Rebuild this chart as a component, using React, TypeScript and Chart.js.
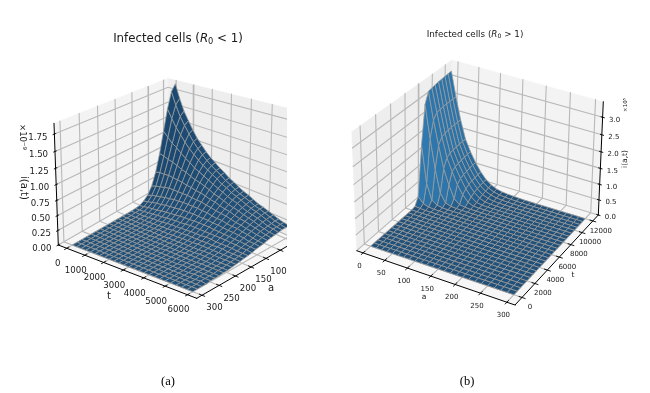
import React, { useEffect, useRef } from "react";
import { Chart, registerables } from "chart.js";

Chart.register(...registerables);

const leftAGrid = [-12,1,14,27,40,53,66,79,92,105,118,131,144,157,170,183,196,209,222,235,248,261,274,287,300];
const leftTGrid = [0,250,500,750,1000,1250,1500,1750,2000,2250,2500,2750,3000,3250,3500,3750,4000,4250,4500,4750,5000,5250,5500,5750,6000];
// one row per t in leftTGrid; columns follow leftAGrid; omitted trailing cells are 0
const leftRows = [
[1.85,1.75,1.49,1.14,.78,.48,.26,.13,.06,.02,.01],
[1.63,1.55,1.35,1.06,.76,.50,.29,.16,.08,.03,.01,.01],
[1.44,1.38,1.22,.98,.73,.50,.31,.18,.10,.05,.02,.01],
[1.30,1.25,1.12,.93,.71,.51,.33,.20,.12,.06,.03,.01,.01],
[1.17,1.13,1.02,.86,.68,.50,.35,.22,.13,.07,.04,.02,.01],
[1.05,1.02,.93,.80,.64,.49,.35,.23,.15,.09,.05,.03,.01,.01],
[.96,.93,.86,.75,.62,.48,.35,.25,.16,.10,.06,.03,.02,.01],
[.87,.85,.79,.69,.58,.46,.35,.25,.17,.11,.07,.04,.02,.01,.01],
[.80,.78,.73,.65,.55,.45,.35,.26,.18,.12,.08,.05,.03,.02,.01],
[.74,.72,.68,.61,.53,.43,.34,.26,.19,.13,.09,.06,.03,.02,.01,.01],
[.68,.67,.63,.57,.50,.42,.33,.26,.19,.14,.09,.06,.04,.02,.01,.01],
[.63,.62,.59,.53,.47,.40,.33,.26,.20,.14,.10,.07,.05,.03,.02,.01,.01],
[.57,.56,.53,.49,.43,.37,.31,.25,.19,.15,.11,.07,.05,.03,.02,.01,.01],
[.53,.52,.50,.46,.41,.36,.30,.25,.19,.15,.11,.08,.06,.04,.02,.02,.01,.01],
[.48,.47,.45,.42,.38,.33,.28,.23,.19,.15,.11,.08,.06,.04,.03,.02,.01,.01],
[.44,.43,.42,.39,.35,.31,.27,.22,.18,.15,.11,.08,.06,.04,.03,.02,.01,.01],
[.41,.40,.39,.37,.33,.30,.26,.22,.18,.14,.11,.09,.06,.05,.03,.02,.02,.01,.01],
[.37,.37,.35,.33,.31,.27,.24,.20,.17,.14,.11,.09,.07,.05,.03,.02,.02,.01,.01],
[.33,.33,.32,.30,.28,.25,.22,.19,.16,.13,.11,.08,.06,.05,.04,.03,.02,.01,.01,.01],
[.31,.31,.30,.28,.26,.24,.21,.19,.16,.13,.11,.08,.07,.05,.04,.03,.02,.01,.01,.01],
[.28,.28,.27,.26,.24,.22,.19,.17,.15,.12,.10,.08,.07,.05,.04,.03,.02,.02,.01,.01],
[.25,.25,.24,.23,.21,.20,.18,.16,.14,.12,.10,.08,.06,.05,.04,.03,.02,.02,.01,.01,.01],
[.22,.22,.21,.20,.19,.18,.16,.14,.12,.11,.09,.07,.06,.05,.04,.03,.02,.02,.01,.01,.01],
[.20,.20,.19,.19,.17,.16,.15,.13,.12,.10,.09,.07,.06,.05,.04,.03,.02,.02,.01,.01,.01,.01],
[.185,.18,.18,.17,.16,.15,.14,.12,.11,.10,.08,.07,.06,.05,.04,.03,.02,.02,.01,.01,.01],
];
const leftATicks = [0,50,100,150,200,250,300];
const leftTTicks = [0,1000,2000,3000,4000,5000,6000];
const leftZTicks = [0,.25,.5,.75,1,1.25,1.5,1.75];

const rightAGrid = [0,12.5,25,37.5,50,62.5,75,87.5,100,112.5,125,137.5,150,162.5,175,187.5,200,212.5,225,237.5,250,262.5,275,287.5,300];
const rightTGrid = [0,500,1000,1500,2000,2500,3000,3500,4000,4500,5000,5500,6000,6500,7000,7500,8000,8500,9000,9500,10000,10500,11000,11500,12000];
// rows for t = 0 .. 6000 are flat zero; omitted trailing cells are 0
const rightRows = [
[],[],[],[],[],[],[],[],[],[],[],[],[],
[.03,.01],
[.26,.08,.02],
[1.8,.65,.16,.04,.01],
[2.9,1.95,1.07,.35,.08,.02,.005],
[3.2,2.42,1.72,1.05,.58,.19,.04,.01],
[3.22,2.56,1.89,1.3,.92,.56,.28,.08,.01],
[3.24,2.58,1.92,1.36,.98,.66,.38,.17,.04,.01],
[3.26,2.59,1.94,1.38,1.01,.7,.44,.23,.09,.02,.005],
[3.27,2.6,1.95,1.39,1.03,.72,.46,.26,.12,.05,.01,.003],
[3.28,2.6,1.95,1.4,1.04,.74,.48,.28,.14,.07,.03,.01,.002],
[3.29,2.6,1.95,1.4,1.05,.75,.49,.29,.16,.08,.04,.02,.01],
[3.3,2.6,1.95,1.4,1.05,.75,.5,.3,.17,.09,.05,.03,.02,.01],
];
const rightATicks = [0,50,100,150,200,250,300];
const rightTTicks = [0,2000,4000,6000,8000,10000,12000];
const rightZTicks = [0,.5,1,1.5,2,2.5,3];

type P = { x: number; y: number };
type Lbl = { text: string; at: P; size: number; rot?: number };

const GRID = "#b8b8b8";
const MESH = "#9c9c9c";

// corners indexed [u][v][s] on the page: u along a, v along t, s along z
const leftView = {
  box: [[[[168,182],[168,78.3]],[[298,240],[303,112]]],[[[58.3,245],[54,123.3]],[[196.7,298.3],[196,152]]]],
  depth: [-.12,-.12,-.1],
  aRange: [-15,315], tRange: [-480,6400], zRange: [0,1.9],
};
const rightView = {
  box: [[[[356.7,250.7],[351.7,131.7]],[[449,170],[452,60]]],[[[515,305],[516,165]],[[598.3,215],[603.3,101.7]]]],
  depth: [-.12,.12,-.1],
  aRange: [-15,315], tRange: [-1050,13050], zRange: [0,3.43],
};
type View = typeof leftView;

function dOf(v: View, u: number, w: number, s: number) {
  return 1 + v.depth[0]*u + v.depth[1]*w + v.depth[2]*s;
}
function proj(v: View, u: number, w: number, s: number): P {
  let sx = 0, sy = 0, sd = 0;
  for (const iu of [0,1]) for (const iw of [0,1]) for (const is of [0,1]) {
    const b = (iu?u:1-u)*(iw?w:1-w)*(is?s:1-s)*dOf(v,iu,iw,is);
    sx += b*v.box[iu][iw][is][0]; sy += b*v.box[iu][iw][is][1]; sd += b;
  }
  return { x: sx/sd, y: sy/sd };
}
const nu = (v: View, a: number) => (a-v.aRange[0])/(v.aRange[1]-v.aRange[0]);
const nv = (v: View, t: number) => (t-v.tRange[0])/(v.tRange[1]-v.tRange[0]);
const ns = (v: View, z: number) => (z-v.zRange[0])/(v.zRange[1]-v.zRange[0]);

const line = (pts: P[], color: string, width: number) => ({
  data: pts, showLine: true, borderColor: color, borderWidth: width, pointRadius: 0, fill: false, tension: 0, borderCapStyle: "round",
});
const poly = (pts: P[], color: string, border: string, width: number) => ({
  data: [...pts, pts[0]], showLine: true, backgroundColor: color, borderColor: border, borderWidth: width,
  pointRadius: 0, fill: "shape", tension: 0, borderJoinStyle: "round",
});
const mix = (c0: number[], c1: number[], f: number) =>
  `rgb(${c0.map((c,i)=>Math.round(c+(c1[i]-c)*f)).join(",")})`;

type Cfg = {
  view: View; as: number[]; ts: number[]; rows: number[][];
  aTicks: number[]; tTicks: number[]; zTicks: number[];
  wallU: number; wallV: number; zAxisU: number; zAxisV: number; aAxisV: number; tAxisU: number;
  flat: number[]; steep: number[];
};

function buildDatasets(c: Cfg) {
  const v = c.view;
  const ds: any[] = [];
  const panes: [number[][], string][] = [
    [[[c.wallU,0,0],[c.wallU,1,0],[c.wallU,1,1],[c.wallU,0,1]], "#eeeeee"],
    [[[0,c.wallV,0],[1,c.wallV,0],[1,c.wallV,1],[0,c.wallV,1]], "#f3f3f3"],
    [[[0,0,0],[1,0,0],[1,1,0],[0,1,0]], "#f6f6f6"],
  ];
  for (const [q, col] of panes) ds.push(poly(q.map(p=>proj(v,p[0],p[1],p[2])), col, col, .5));
  for (const a of c.aTicks) {
    const u = nu(v,a);
    ds.push(line([proj(v,u,c.wallV,1),proj(v,u,c.wallV,0),proj(v,u,1-c.wallV,0)],GRID,1.1));
  }
  for (const t of c.tTicks) {
    const w = nv(v,t);
    ds.push(line([proj(v,c.wallU,w,1),proj(v,c.wallU,w,0),proj(v,1-c.wallU,w,0)],GRID,1.1));
  }
  for (const z of c.zTicks) {
    const s = ns(v,z);
    ds.push(line([proj(v,1-c.wallU,c.wallV,s),proj(v,c.wallU,c.wallV,s),proj(v,c.wallU,1-c.wallV,s)],GRID,1.1));
  }
  // axes
  ds.push(line([proj(v,c.zAxisU,c.zAxisV,0),proj(v,c.zAxisU,c.zAxisV,1)],"#000",1));
  ds.push(line([proj(v,0,c.aAxisV,0),proj(v,1,c.aAxisV,0)],"#000",1));
  ds.push(line([proj(v,c.tAxisU,0,0),proj(v,c.tAxisU,1,0)],"#000",1));
  const tickMark = (a: P, b: P) => ds.push(line([a,b],"#000",.9));
  const back = (p: P, q: P, k: number): P => ({ x: p.x+(q.x-p.x)*k, y: p.y+(q.y-p.y)*k });
  for (const a of c.aTicks) {
    const p = proj(v,nu(v,a),c.aAxisV,0), q = proj(v,nu(v,a),1-c.aAxisV,0);
    tickMark(back(p,q,.02),back(p,q,-.02));
  }
  for (const t of c.tTicks) {
    const p = proj(v,c.tAxisU,nv(v,t),0), q = proj(v,1-c.tAxisU,nv(v,t),0);
    tickMark(back(p,q,.02),back(p,q,-.02));
  }
  for (const z of c.zTicks) {
    const p = proj(v,c.zAxisU,c.zAxisV,ns(v,z));
    const q = proj(v,1-c.zAxisU,c.zAxisV,ns(v,z));
    tickMark(back(p,q,.012),back(p,q,-.012));
  }
  // surface
  const val = (i: number, j: number) => c.rows[j]?.[i] ?? 0;
  const cells: { d: number; pts: P[]; f: number }[] = [];
  for (let j = 0; j < c.ts.length-1; j++) for (let i = 0; i < c.as.length-1; i++) {
    const q = [[i,j],[i+1,j],[i+1,j+1],[i,j+1]].map(([ii,jj]) => [nu(v,c.as[ii]),nv(v,c.ts[jj]),ns(v,val(ii,jj))]);
    const m = [0,1,2].map(k => (q[0][k]+q[1][k]+q[2][k]+q[3][k])/4);
    const dsu = ((q[1][2]+q[2][2])-(q[0][2]+q[3][2]))/2/(q[1][0]-q[0][0]);
    const dsv = ((q[2][2]+q[3][2])-(q[0][2]+q[1][2]))/2/(q[3][1]-q[0][1]);
    const f = 1-1/Math.sqrt(1+dsu*dsu+dsv*dsv);
    cells.push({ d: dOf(v,m[0],m[1],m[2]), pts: q.map(p=>proj(v,p[0],p[1],p[2])), f });
  }
  cells.sort((p,q)=>q.d-p.d);
  for (const cell of cells) ds.push(poly(cell.pts, mix(c.flat,c.steep,cell.f), MESH, .75));
  // Chart.js paints the first dataset last, so the painter's order is reversed here
  return ds.reverse();
}

const textPlugin = (labels: Lbl[], title: { at: P; size: number; parts: [string,string][] }, caption: { text: string; at: P }) => ({
  id: "panelText",
  afterDatasetsDraw(chart: any) {
    const ctx = chart.ctx, sx = chart.scales.x, sy = chart.scales.y;
    const px = (p: P) => ({ x: sx.getPixelForValue(p.x), y: sy.getPixelForValue(p.y) });
    ctx.save();
    ctx.fillStyle = "#1a1a1a"; ctx.textAlign = "center"; ctx.textBaseline = "middle";
    for (const l of labels) {
      const p = px(l.at);
      ctx.save(); ctx.translate(p.x,p.y); if (l.rot) ctx.rotate(l.rot);
      ctx.font = `${l.size}px "DejaVu Sans"`;
      ctx.fillText(l.text,0,0); ctx.restore();
    }
    // title with a math italic R and a subscript
    const p = px(title.at), z = title.size;
    const fonts: Record<string,{f:string;dy:number}> = {
      n: { f: `${z}px "DejaVu Sans"`, dy: 0 },
      i: { f: `italic ${z}px "DejaVu Sans"`, dy: 0 },
      s: { f: `${z*.7}px "DejaVu Sans"`, dy: z*.17 },
    };
    let w = 0;
    for (const [k,t] of title.parts) { ctx.font = fonts[k].f; w += ctx.measureText(t).width; }
    let x = p.x - w/2;
    ctx.textAlign = "left"; ctx.textBaseline = "alphabetic";
    for (const [k,t] of title.parts) {
      ctx.font = fonts[k].f; ctx.fillText(t,x,p.y+fonts[k].dy); x += ctx.measureText(t).width;
    }
    const cp = px(caption.at);
    ctx.fillStyle = "#000"; ctx.textAlign = "center"; ctx.textBaseline = "middle";
    ctx.font = `12.5px "Liberation Serif"`;
    ctx.fillText(caption.text,cp.x,cp.y);
    ctx.restore();
  },
});

function makeChart(canvas: HTMLCanvasElement, xMin: number, xMax: number, datasets: any[], plugin: any) {
  return new Chart(canvas, {
    type: "scatter",
    data: { datasets },
    options: {
      animation: false, responsive: false, events: [],
      layout: { padding: 0 },
      scales: {
        x: { type: "linear", min: xMin, max: xMax, display: false },
        y: { type: "linear", min: 0, max: 393, reverse: true, display: false },
      },
      plugins: { legend: { display: false }, tooltip: { enabled: false }, title: { display: false } },
    } as any,
    plugins: [plugin],
  });
}

function leftLabels(): Lbl[] {
  const v = leftView, out: Lbl[] = [];
  const off = (p: P, dx: number, dy: number) => ({ x: p.x+dx, y: p.y+dy });
  for (const z of leftZTicks) out.push({ text: z.toFixed(2), at: off(proj(v,1,0,ns(v,z)),-16.5,3.5), size: 8.6 });
  for (const t of leftTTicks) out.push({ text: String(t), at: off(proj(v,1,nv(v,t),0),-9,15.5), size: 8.6 });
  for (const a of leftATicks) out.push({ text: String(a), at: off(proj(v,nu(v,a),1,0),12.5,13), size: 8.6 });
  out.push({ text: "t", at: { x: 109, y: 296 }, size: 10 });
  out.push({ text: "a", at: { x: 271, y: 288 }, size: 10 });
  out.push({ text: "i(a,t)", at: { x: 24, y: 188 }, size: 10, rot: Math.PI/2 });
  out.push({ text: "×10⁻⁹", at: { x: 22, y: 137 }, size: 8.6, rot: Math.PI/2 });
  return out;
}
function rightLabels(): Lbl[] {
  const v = rightView, out: Lbl[] = [];
  const off = (p: P, dx: number, dy: number) => ({ x: p.x+dx, y: p.y+dy });
  for (const z of rightZTicks) out.push({ text: z.toFixed(1), at: off(proj(v,1,1,ns(v,z)),12,2.5), size: 7 });
  for (const a of rightATicks) out.push({ text: String(a), at: off(proj(v,nu(v,a),0,0),-3.5,13), size: 7 });
  for (const t of rightTTicks) out.push({ text: String(t), at: off(proj(v,1,nv(v,t),0),8,10), size: 7 });
  out.push({ text: "a", at: { x: 424, y: 297 }, size: 7.5 });
  out.push({ text: "t", at: { x: 573, y: 275 }, size: 7.5 });
  out.push({ text: "i(a,t)", at: { x: 625, y: 159 }, size: 7.5, rot: -Math.PI/2 });
  out.push({ text: "×10⁵", at: { x: 626, y: 105 }, size: 5.5, rot: -Math.PI/2 });
  return out;
}

export default function App() {
  const leftRef = useRef<HTMLCanvasElement>(null);
  const rightRef = useRef<HTMLCanvasElement>(null);
  useEffect(() => {
    const left = makeChart(leftRef.current!, 0, 287, buildDatasets({
      view: leftView, as: leftAGrid, ts: leftTGrid, rows: leftRows,
      aTicks: leftATicks, tTicks: leftTTicks, zTicks: leftZTicks,
      wallU: 0, wallV: 0, zAxisU: 1, zAxisV: 0, aAxisV: 1, tAxisU: 1,
      flat: [33,80,120], steep: [24,70,110],
    }), textPlugin(leftLabels(),
      { at: { x: 178, y: 42 }, size: 11.8, parts: [["n","Infected cells ("],["i","R"],["s","0"],["n"," < 1)"]] },
      { text: "(a)", at: { x: 168, y: 382 } }));
    const right = makeChart(rightRef.current!, 287, 650, buildDatasets({
      view: rightView, as: rightAGrid, ts: rightTGrid, rows: rightRows,
      aTicks: rightATicks, tTicks: rightTTicks, zTicks: rightZTicks,
      wallU: 0, wallV: 1, zAxisU: 1, zAxisV: 1, aAxisV: 0, tAxisU: 1,
      flat: [33,80,120], steep: [47,125,181],
    }), textPlugin(rightLabels(),
      { at: { x: 475, y: 37 }, size: 8.8, parts: [["n","Infected cells ("],["i","R"],["s","0"],["n"," > 1)"]] },
      { text: "(b)", at: { x: 467, y: 382 } }));
    return () => { left.destroy(); right.destroy(); };
  }, []);
  return (
    <div style={{ position: "absolute", left: 0, top: 0, width: 650, height: 393, background: "#fff", overflow: "hidden" }}>
      <canvas ref={leftRef} width={287} height={393} style={{ position: "absolute", left: 0, top: 0 }} />
      <canvas ref={rightRef} width={363} height={393} style={{ position: "absolute", left: 287, top: 0 }} />
    </div>
  );
}
